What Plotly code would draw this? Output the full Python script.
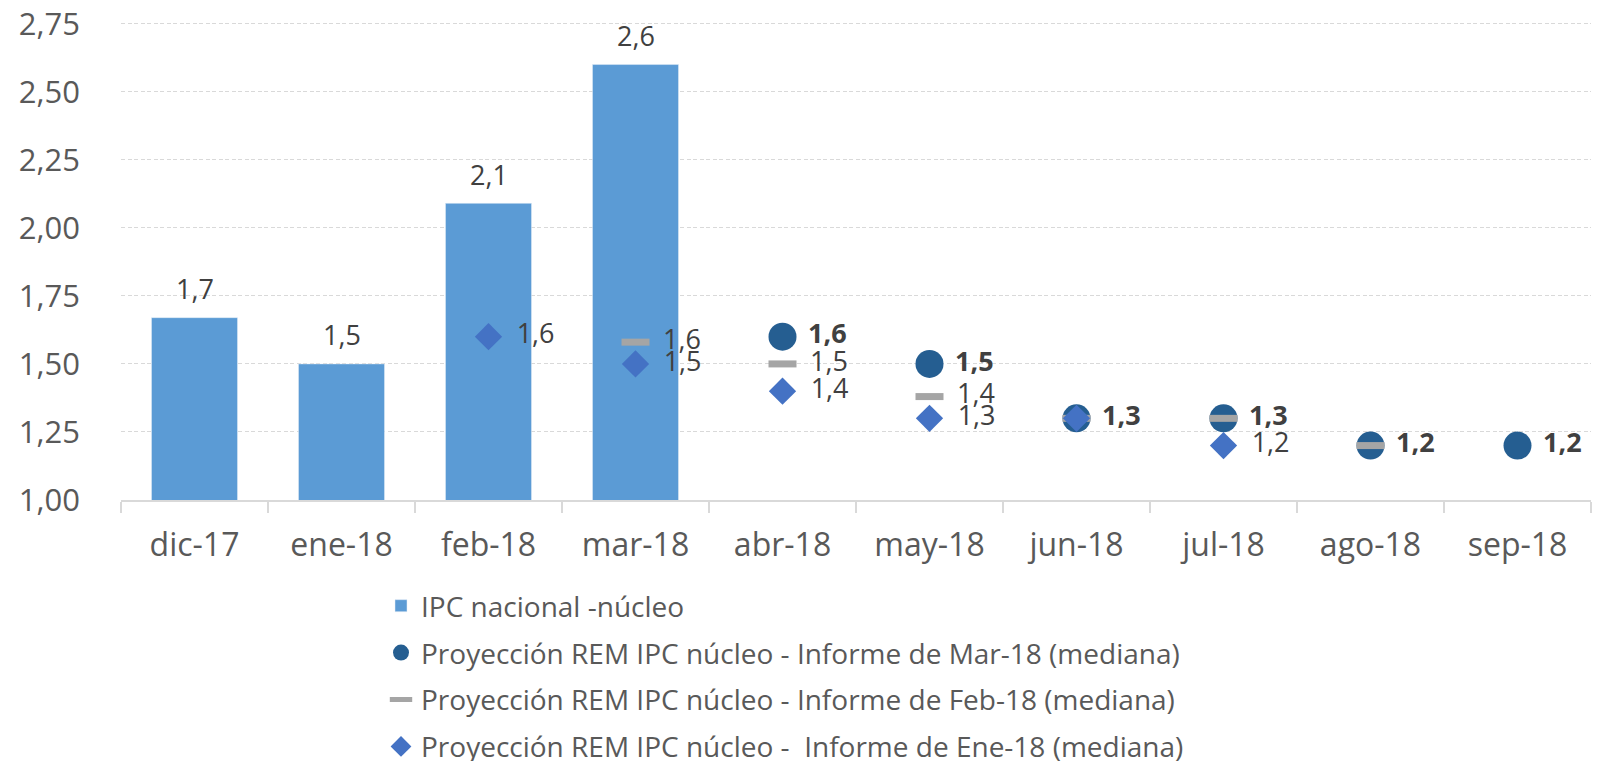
import plotly.graph_objects as go

categories = ["dic-17", "ene-18", "feb-18", "mar-18", "abr-18", "may-18", "jun-18", "jul-18", "ago-18", "sep-18"]

ipc_nucleo = [1.67, 1.50, 2.09, 2.60, None, None, None, None, None, None]
rem_mar18 = [None, None, None, None, 1.60, 1.50, 1.30, 1.30, 1.20, 1.20]
rem_feb18 = [None, None, None, 1.58, 1.50, 1.38, 1.30, 1.30, 1.20, None]
rem_ene18 = [None, None, 1.60, 1.50, 1.40, 1.30, 1.30, 1.20, None, None]

# which data labels are visible in the reference (overlapping ones hidden)
show_feb18 = [False, False, False, True, True, True, False, False, False, False]
show_ene18 = [False, False, True, True, True, True, False, True, False, False]

series_names = [
    "IPC nacional -núcleo",
    "Proyección REM IPC núcleo - Informe de Mar-18 (mediana)",
    "Proyección REM IPC núcleo - Informe de Feb-18 (mediana)",
    "Proyección REM IPC núcleo -  Informe de Ene-18 (mediana)",
]

FONT = "Open Sans, sans-serif"

# the page body adds an 8px margin; the figure is sized to fill the window exactly
W, H = 1595, 753


def fmt(v):
    return "" if v is None else f"{v:.1f}".replace(".", ",")


def labels(vals, show=None, pad=" ", bold=False):
    out = []
    for i, v in enumerate(vals):
        if v is None or (show is not None and not show[i]):
            out.append("")
        else:
            s = fmt(v)
            out.append(pad + ("<b>" + s + "</b>" if bold else s))
    return out


LABEL_FONT = dict(family=FONT, size=27, color="#404040")

fig = go.Figure()

fig.add_trace(go.Bar(
    x=categories, y=ipc_nucleo,
    name=series_names[0], legendgroup="a",
    marker=dict(color="#5B9BD5"),
    cliponaxis=False,
))

for c, v in zip(categories, ipc_nucleo):
    if v is not None:
        fig.add_annotation(x=c, y=v, text=fmt(v), showarrow=False,
                           yshift=29, yanchor="middle", font=LABEL_FONT)

fig.add_trace(go.Scatter(
    x=categories, y=rem_mar18, mode="markers+text",
    name=series_names[1], legendgroup="b",
    marker=dict(symbol="circle", size=28, color="#255E91"),
    text=labels(rem_mar18, pad=" ", bold=True),
    textposition="middle right", textfont=LABEL_FONT,
    cliponaxis=False,
))

fig.add_trace(go.Scatter(
    x=categories, y=rem_feb18, mode="markers+text",
    name=series_names[2], legendgroup="c",
    marker=dict(symbol="line-ew", size=20, color="#A5A5A5", line=dict(width=7, color="#A5A5A5")),
    text=labels(rem_feb18, show_feb18, pad="  "),
    textposition="middle right", textfont=LABEL_FONT,
    cliponaxis=False,
))

fig.add_trace(go.Scatter(
    x=categories, y=rem_ene18, mode="markers+text",
    name=series_names[3], legendgroup="d",
    marker=dict(symbol="diamond", size=21, color="#4472C4"),
    text=labels(rem_ene18, show_ene18, pad="  "),
    textposition="middle right", textfont=LABEL_FONT,
    cliponaxis=False,
))

fig.update_layout(
    width=W, height=H,
    margin=dict(l=113, r=12, t=13, b=261, autoexpand=False),
    plot_bgcolor="white", paper_bgcolor="white",
    separators=",.",
    bargap=0.415,
    showlegend=True,
    font=dict(family=FONT, color="#595959"),
    legend=dict(
        xref="container", yref="container",
        x=373 / W, y=1 - 573 / H, xanchor="left", yanchor="top",
        orientation="v", traceorder="grouped",
        tracegroupgap=7.5,
        itemwidth=30,
        font=dict(family=FONT, size=28, color="#595959"),
        bgcolor="rgba(0,0,0,0)",
    ),
    xaxis=dict(
        type="category",
        showline=True, linecolor="#D9D9D9", linewidth=1.5,
        ticks="outside", tickson="boundaries", ticklen=11, tickcolor="#D9D9D9", tickwidth=1.5,
        tickfont=dict(family=FONT, size=32, color="#595959"),
        ticklabelstandoff=16,
        showgrid=False,
        range=[-0.5, 9.5],
    ),
    yaxis=dict(
        range=[1, 2.76], tick0=1, dtick=0.25, tickformat=".2f",
        showgrid=True, gridcolor="#D9D9D9", griddash="4px,2.5px", gridwidth=1.2,
        zeroline=False, showline=False,
        tickfont=dict(family=FONT, size=31, color="#595959"),
        ticklabelstandoff=40, ticklabeloverflow="allow",
    ),
)

fig.write_html("out.html")
